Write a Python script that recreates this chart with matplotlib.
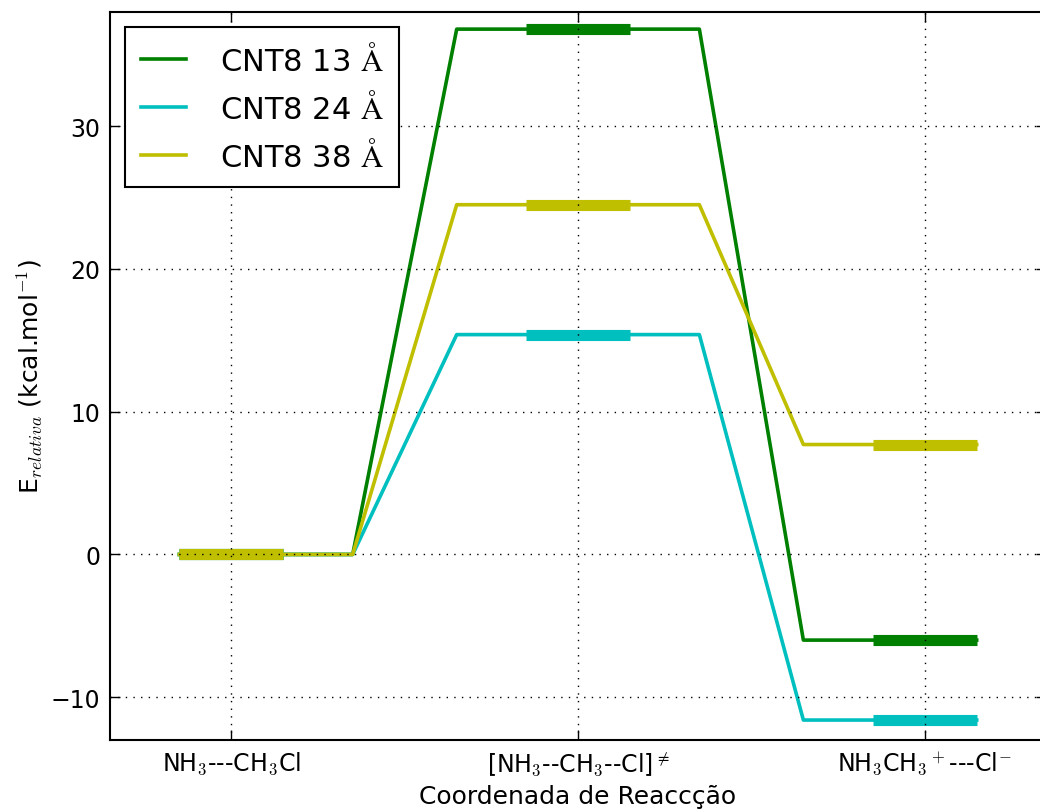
import matplotlib
matplotlib.use('Agg')
import matplotlib.pyplot as plt

plt.rcParams['mathtext.fontset'] = 'cm'
plt.rcParams['font.family'] = 'DejaVu Sans'

# estados da coordenada de reaccao
estados = [r'NH$_3$---CH$_3$Cl', r'[NH$_3$--CH$_3$--Cl]$^{\neq}$', r'NH$_3$CH$_3$$^+$---Cl$^{-}$']
# energias relativas (kcal/mol)
e_13 = [0.0, 36.8, -6.0]
e_24 = [0.0, 15.4, -11.6]
e_38 = [0.0, 24.5, 7.7]
series = [(e_13, 'g', r'CNT8 13 $\mathrm{\AA}$'),
          (e_24, 'c', r'CNT8 24 $\mathrm{\AA}$'),
          (e_38, 'y', r'CNT8 38 $\mathrm{\AA}$')]

fig = plt.figure(figsize=(10.4, 8.12), dpi=100)
ax = fig.add_axes([0.1058, 0.0874, 0.9, 0.8966])

meia = 0.15   # meia largura do nivel grosso
patamar = 0.35  # meia largura do patamar fino
for e, cor, nome in series:
    xs, ys = [], []
    for i, v in enumerate(e):
        if i == 0:
            xs += [i - meia, i + patamar]
        elif i == len(e) - 1:
            xs += [i - patamar, i + meia]
        else:
            xs += [i - patamar, i + patamar]
        ys += [v, v]
    ax.plot(xs, ys, color=cor, lw=2.6, label=nome, zorder=2)
    for i, v in enumerate(e):
        ax.plot([i - meia, i + meia], [v, v], color=cor, lw=8,
                solid_capstyle='butt', zorder=2)

ax.set_xlim(-0.35, 2.35)
ax.set_ylim(-13, 38)
ax.set_xticks(range(len(estados)))
ax.set_xticklabels(estados, fontsize=16)
ax.set_yticks([-10, 0, 10, 20, 30])
ax.tick_params(axis='both', direction='in', length=7, width=1, pad=7,
               labelsize=17, top=True, right=True)
for s in ax.spines.values():
    s.set_linewidth(1.5)

ax.set_axisbelow(False)
ax.grid(True, color='k', linestyle=(0, (1, 4.5)), linewidth=1)

ax.set_xlabel(u'Coordenada de Reaccção', fontsize=18, labelpad=5)
ax.set_ylabel(r'E$_{relativa}$ (kcal.mol$^{\mathsf{-1}}$)', fontsize=18, labelpad=4)

leg = ax.legend(loc='upper left', fontsize=22, handlelength=1.5,
                handletextpad=1.1, borderpad=0.5, borderaxespad=0.5,
                fancybox=False, framealpha=1)
leg.get_frame().set_edgecolor('k')
leg.get_frame().set_linewidth(1.5)

plt.savefig('out.png', dpi=100)
